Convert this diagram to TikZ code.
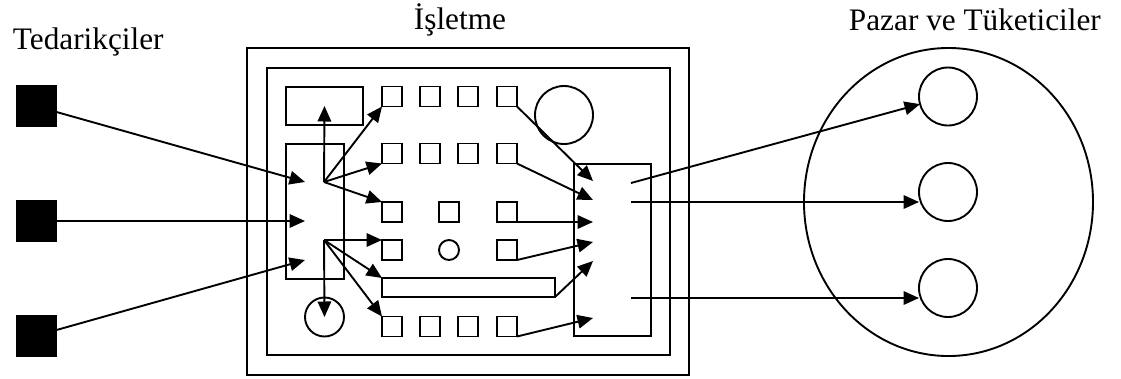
\documentclass[tikz,border=0pt]{standalone}
\usepackage{fontspec}
\setmainfont{Liberation Serif}
\usetikzlibrary{arrows.meta,shapes.geometric}
\begin{document}
\begin{tikzpicture}[x=0.2mm,y=-0.2mm,
  line width=0.38mm,
  arr/.style={-{Triangle[length=3.1mm,width=2.7mm]}},
  sq/.style={draw,rectangle,minimum size=4mm,inner sep=0pt,outer sep=0pt},
  blk/.style={draw,fill=black,rectangle,minimum size=8mm,inner sep=0pt,outer sep=0pt},
  box/.style={draw,rectangle,inner sep=0pt,outer sep=0pt},
  ring/.style={draw,circle,inner sep=0pt,outer sep=0pt},
  lbl/.style={font=\fontsize{17.8}{20}\selectfont,inner sep=0pt}
]
\useasboundingbox (0,0) rectangle (1121,378);

% titles
\node[lbl,anchor=base west] (tsup) at (12,49) {Tedarikçiler};
\node[lbl,anchor=base west] (tfirm) at (413,29) {İşletme};
\node[lbl,anchor=base west] (tmkt) at (848,30) {Pazar ve Tüketiciler};

% suppliers
\node[blk] (s1) at (36.5,106) {};
\node[blk] (s2) at (36.5,221) {};
\node[blk] (s3) at (36.5,336) {};

% firm frames
\node[box,minimum width=88.4mm,minimum height=65.4mm] (outer) at (468,211.5) {};
\node[box,minimum width=80.6mm,minimum height=57.4mm] (inner) at (468.5,211.5) {};

% inner units
\node[box,minimum width=15.4mm,minimum height=7.6mm] (tl) at (324.5,106) {};
\node[box,minimum width=11.6mm,minimum height=27mm] (lb) at (315,211.5) {};
\node[box,minimum width=15.4mm,minimum height=34.4mm] (rb) at (612.5,250) {};
\node[box,minimum width=34.6mm,minimum height=3.8mm] (bar) at (468.5,287.5) {};
\node[ring,minimum size=11.6mm] (bc) at (564,115) {};
\node[ring,minimum size=7.8mm] (sc) at (324.5,317) {};

% grid of small units
\foreach \c/\x in {1/392,2/430,3/468,4/507}{
  \node[sq] (r1c\c) at (\x,96.5) {};
  \node[sq] (r2c\c) at (\x,153.5) {};
  \node[sq] (r5c\c) at (\x,326.5) {};
}
\node[sq] (r3c1) at (392,212) {};
\node[sq] (r3c2) at (449,212) {};
\node[sq] (r3c4) at (507,212) {};
\node[sq] (r4c1) at (392,250) {};
\node[ring,minimum size=4mm] (r4o) at (449,250) {};
\node[sq] (r4c4) at (507,250) {};

% market
\node[draw,ellipse,minimum width=57.8mm,minimum height=61.6mm,inner sep=0pt] (mkt) at (948.5,202) {};
\node[ring,minimum size=11.6mm] (c1) at (948,96.5) {};
\node[ring,minimum size=11.6mm] (c2) at (948,192) {};
\node[ring,minimum size=11.6mm] (c3) at (948,288) {};

% points inside the boxes
\coordinate (in1) at (305,182);
\coordinate (in2) at (305,221);
\coordinate (in3) at (305,260);
\coordinate (hubA) at (324,182);
\coordinate (hubB) at (324,240);
\coordinate (q1) at (593,181);
\coordinate (q2) at (593,200);
\coordinate (q3) at (593,222);
\coordinate (q4) at (593,242);
\coordinate (q5) at (593,261);
\coordinate (q6) at (593,318);
\coordinate (o1) at (631,183);
\coordinate (o2) at (631,202);
\coordinate (o3) at (631,298);

% supply flows
\draw[arr] ([yshift=-1.2mm]s1.east) -- (in1);
\draw[arr] (s2.east) -- (in2);
\draw[arr] ([yshift=1.2mm]s3.east) -- (in3);

% internal distribution
\draw[arr] (hubA) -- (tl.center);
\draw[arr] (hubA) -- (r1c1.south west);
\draw[arr] (hubA) -- (r2c1.south west);
\draw[arr] (hubA) -- (r3c1.north west);
\draw[arr] (hubB) -- (r4c1.north west);
\draw[arr] (hubB) -- (bar.north west);
\draw[arr] (hubB) -- (r5c1.north west);
\draw[arr] (hubB) -- (sc.center);

% collection
\draw[arr] (r1c4.south east) -- (q1);
\draw[arr] (r2c4.south east) -- (q2);
\draw[arr] (r3c4.south east) -- (q3);
\draw[arr] (r4c4.south east) -- (q4);
\draw[arr] (bar.south east) -- (q5);
\draw[arr] (r5c4.south east) -- (q6);

% deliveries
\draw[arr] (o1) -- (c1);
\draw[arr] (o2) -- (o2 -| c2.west);
\draw[arr] (o3) -- (o3 -| c3.west);
\end{tikzpicture}
\end{document}
